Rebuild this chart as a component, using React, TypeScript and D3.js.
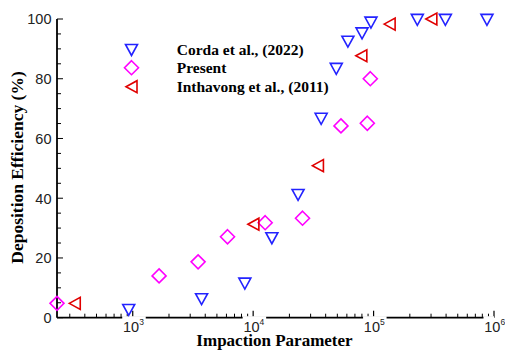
import { useRef, useEffect } from "react";
import * as d3 from "d3";

// Corda et al., (2022)
const cordaX = [926, 3730, 8530, 14300, 23600, 36700, 49000, 61200, 80200, 95100, 230800, 394600, 874000];
const cordaY = [2.6, 6.2, 11.4, 26.6, 41.1, 66.6, 83.3, 92.4, 95.2, 98.8, 99.7, 99.7, 99.7];

// Present
const presentX = [235, 1655, 3490, 6125, 12580, 25700, 53600, 88700, 93900];
const presentY = [4.8, 14.0, 18.7, 27.1, 31.8, 33.3, 64.2, 65.1, 80.0];

// Inthavong et al., (2011)
const inthX = [330, 10040, 34500, 79100, 135900, 301700];
const inthY = [4.8, 31.3, 50.9, 87.7, 98.3, 100];

const seriesNames = ["Corda et al., (2022)", "Present", "Inthavong et al., (2011)"];
const yTicks = [0, 20, 40, 60, 80, 100];
const xMajors = [3, 4, 5, 6];

const width = 505;
const height = 351;
const plot = { left: 57, right: 494, top: 19, bottom: 317.7 };

const colors = ["#2323ff", "#ff00ff", "#e00000"];
const shapes = [
  "M-6,-5.5L6,-5.5L0,5.5Z", // triangle down
  "M0,-7L7,0L0,7L-7,0Z", // diamond
  "M-5.5,0L5.5,-6L5.5,6Z", // triangle left
];

const sans = "'Liberation Sans', Arial, sans-serif";
const serif = "'Liberation Serif', 'Times New Roman', serif";

const App = () => {
  const svgRef = useRef<SVGSVGElement>(null);

  useEffect(() => {
    const svg = d3.select(svgRef.current);
    svg.selectAll("*").remove();

    const x = d3.scaleLog().domain([235, 1e6]).range([plot.left, plot.right]);
    const y = d3.scaleLinear().domain([0, 100]).range([plot.bottom, plot.top]);

    const series = [
      cordaX.map((v, i) => ({ x: v, y: cordaY[i] })),
      presentX.map((v, i) => ({ x: v, y: presentY[i] })),
      inthX.map((v, i) => ({ x: v, y: inthY[i] })),
    ];

    // axes lines
    const ax = svg.append("g").attr("stroke", "#000").attr("fill", "none");
    ax.append("line")
      .attr("x1", plot.left).attr("x2", plot.left)
      .attr("y1", plot.top).attr("y2", plot.bottom)
      .attr("stroke-width", 1.8);
    ax.append("line")
      .attr("x1", plot.left).attr("x2", plot.right)
      .attr("y1", plot.bottom).attr("y2", plot.bottom)
      .attr("stroke-width", 1.8);

    // white boxes behind x labels (cut the axis line)
    xMajors.forEach((e) => {
      const px = x(Math.pow(10, e));
      svg.append("rect")
        .attr("x", px - 10.5).attr("y", plot.bottom - 1.5)
        .attr("width", e === 6 ? 10.5 : 23.5).attr("height", 4)
        .attr("fill", "#fff");
    });

    // y ticks
    d3.range(0, 101, 5).forEach((v) => {
      const major = v % 20 === 0;
      ax.append("line")
        .attr("x1", plot.left).attr("x2", plot.left + (major ? 6 : 4))
        .attr("y1", y(v)).attr("y2", y(v))
        .attr("stroke-width", 1);
    });

    // x ticks
    const minors: number[] = [];
    for (let e = 2; e <= 5; e++) {
      for (let m = 2; m <= 9; m++) {
        const v = m * Math.pow(10, e);
        if (v >= 235 && v <= 1e6) minors.push(v);
      }
    }
    minors.forEach((v) => {
      ax.append("line")
        .attr("x1", x(v)).attr("x2", x(v))
        .attr("y1", plot.bottom).attr("y2", plot.bottom - 4)
        .attr("stroke-width", 1);
    });
    xMajors.forEach((e) => {
      const px = x(Math.pow(10, e));
      ax.append("line")
        .attr("x1", px).attr("x2", px)
        .attr("y1", plot.bottom).attr("y2", plot.bottom - 7)
        .attr("stroke-width", 1.2);
    });

    // y tick labels
    svg.append("g")
      .selectAll("text")
      .data(yTicks)
      .enter()
      .append("text")
      .attr("x", 51.5)
      .attr("y", (d) => y(d) + 5.3)
      .attr("text-anchor", "end")
      .attr("font-family", sans)
      .attr("font-size", 14.5)
      .attr("fill", "#222")
      .text((d) => d);

    // x tick labels
    xMajors.forEach((e) => {
      const t = svg.append("text")
        .attr("x", x(Math.pow(10, e)) + 0.7)
        .attr("y", 331.8)
        .attr("text-anchor", "middle")
        .attr("font-family", sans)
        .attr("font-size", 14.5)
        .attr("fill", "#222");
      t.append("tspan").text("10");
      t.append("tspan").attr("dy", -7).attr("font-size", 8.5).text(e);
    });

    // axis titles
    svg.append("text")
      .attr("x", 274.5).attr("y", 345.8)
      .attr("text-anchor", "middle")
      .attr("font-family", serif)
      .attr("font-weight", "bold")
      .attr("font-size", 17)
      .text("Impaction Parameter");

    svg.append("text")
      .attr("transform", "translate(22.5,167.5) rotate(-90)")
      .attr("text-anchor", "middle")
      .attr("font-family", serif)
      .attr("font-weight", "bold")
      .attr("font-size", 17.5)
      .text("Deposition Efficiency (%)");

    // markers
    series.forEach((pts, i) => {
      svg.append("g")
        .selectAll("path")
        .data(pts)
        .enter()
        .append("path")
        .attr("d", shapes[i])
        .attr("transform", (d) => `translate(${x(d.x)},${y(d.y)})`)
        .attr("fill", "none")
        .attr("stroke", colors[i])
        .attr("stroke-width", 1.6);
    });

    // legend
    const legY = [50, 67.7, 86.7];
    const lg = svg.append("g");
    seriesNames.forEach((name, i) => {
      lg.append("path")
        .attr("d", shapes[i])
        .attr("transform", `translate(131.5,${legY[i]})`)
        .attr("fill", "none")
        .attr("stroke", colors[i])
        .attr("stroke-width", 1.6);
      lg.append("text")
        .attr("x", 176.7)
        .attr("y", legY[i] + 5)
        .attr("font-family", serif)
        .attr("font-weight", "bold")
        .attr("font-size", 15.5)
        .text(name);
    });
  }, []);

  return (
    <svg
      ref={svgRef}
      width={width}
      height={height}
      style={{ position: "absolute", left: 0, top: 0, background: "#fff" }}
    ></svg>
  );
};

export default App;
